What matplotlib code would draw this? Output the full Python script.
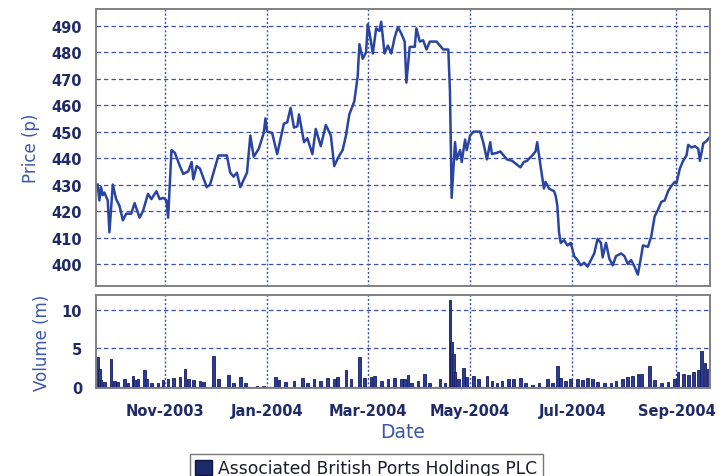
import matplotlib
matplotlib.use("Agg")
import matplotlib.pyplot as plt
import matplotlib.dates as mdates
from matplotlib.patches import Patch
import pandas as pd

# ---------------- data ----------------
price_dates = [
    "2003-09-22", "2003-09-23", "2003-09-24", "2003-09-25", "2003-09-26", "2003-09-28",
    "2003-09-29", "2003-10-01", "2003-10-03", "2003-10-05", "2003-10-07", "2003-10-09",
    "2003-10-12", "2003-10-14", "2003-10-17", "2003-10-19", "2003-10-22", "2003-10-24",
    "2003-10-27", "2003-10-29", "2003-10-31", "2003-11-02", "2003-11-03", "2003-11-05",
    "2003-11-07", "2003-11-10", "2003-11-12", "2003-11-15", "2003-11-17", "2003-11-18",
    "2003-11-20", "2003-11-22", "2003-11-26", "2003-11-28", "2003-12-03", "2003-12-08",
    "2003-12-10", "2003-12-12", "2003-12-14", "2003-12-16", "2003-12-20", "2003-12-22",
    "2003-12-24", "2003-12-27", "2003-12-30", "2003-12-31", "2004-01-01", "2004-01-04",
    "2004-01-07", "2004-01-11", "2004-01-13", "2004-01-15", "2004-01-17", "2004-01-19",
    "2004-01-20", "2004-01-23", "2004-01-25", "2004-01-28", "2004-01-30", "2004-02-02",
    "2004-02-05", "2004-02-08", "2004-02-10", "2004-02-13", "2004-02-15", "2004-02-17",
    "2004-02-19", "2004-02-22", "2004-02-24", "2004-02-25", "2004-02-27", "2004-02-29",
    "2004-03-01", "2004-03-02", "2004-03-04", "2004-03-06", "2004-03-08", "2004-03-09",
    "2004-03-11", "2004-03-13", "2004-03-15", "2004-03-17", "2004-03-19", "2004-03-21",
    "2004-03-23", "2004-03-24", "2004-03-26", "2004-03-29", "2004-03-30", "2004-04-01",
    "2004-04-03", "2004-04-05", "2004-04-07", "2004-04-11", "2004-04-13", "2004-04-15",
    "2004-04-18", "2004-04-19", "2004-04-20", "2004-04-22", "2004-04-23", "2004-04-25",
    "2004-04-26", "2004-04-28", "2004-04-29", "2004-05-01", "2004-05-03", "2004-05-07",
    "2004-05-09", "2004-05-11", "2004-05-13", "2004-05-14", "2004-05-17", "2004-05-19",
    "2004-05-23", "2004-05-26", "2004-05-28", "2004-05-31", "2004-06-02", "2004-06-04",
    "2004-06-07", "2004-06-09", "2004-06-10", "2004-06-12", "2004-06-14", "2004-06-15",
    "2004-06-17", "2004-06-20", "2004-06-21", "2004-06-22", "2004-06-23", "2004-06-24",
    "2004-06-26", "2004-06-28", "2004-06-30", "2004-07-02", "2004-07-04", "2004-07-06",
    "2004-07-08", "2004-07-10", "2004-07-12", "2004-07-14", "2004-07-16", "2004-07-18",
    "2004-07-19", "2004-07-21", "2004-07-23", "2004-07-25", "2004-07-27", "2004-07-30",
    "2004-08-01", "2004-08-03", "2004-08-05", "2004-08-07", "2004-08-09", "2004-08-11",
    "2004-08-12", "2004-08-15", "2004-08-17", "2004-08-19", "2004-08-21", "2004-08-23",
    "2004-08-25", "2004-08-27", "2004-08-29", "2004-08-31", "2004-09-01", "2004-09-03",
    "2004-09-05", "2004-09-07", "2004-09-08", "2004-09-10", "2004-09-12", "2004-09-14",
    "2004-09-15", "2004-09-17", "2004-09-19", "2004-09-21",
]
price_values = [
    430, 424, 429, 426, 427, 424,
    412, 430, 424.5, 422, 416.5, 419,
    419, 423, 417.5, 420, 426.5, 424.5,
    427.5, 424.5, 425, 424, 417.5, 443,
    442, 437, 434, 435, 438.5, 432,
    437, 436, 429, 430, 441, 441,
    434.5, 433, 434.5, 429, 434.5, 448.5,
    440.5, 443.5, 449.5, 455, 450, 449.5,
    441.5, 453, 453.5, 459, 451.5, 452,
    456.5, 446, 447.5, 441.5, 451, 444.5,
    452.5, 448.5, 437, 441, 443, 448.5,
    456.5, 461.5, 471, 483, 477.5, 480,
    490.5, 487.5, 479.5, 489, 488, 491.5,
    479.5, 482.5, 479.5, 485.5, 489.5, 487,
    484, 468.5, 482, 482, 489, 484,
    484.5, 481, 484, 484, 482.5, 481,
    481, 465, 425, 446, 439.5, 443,
    438.5, 447, 443, 448.5, 450, 450,
    445.5, 439.5, 446, 441.5, 442, 442.5,
    439.5, 439, 438, 436.5, 438.5, 439,
    441, 442.5, 446, 437, 428.5, 431,
    428.5, 427.5, 425.8, 422, 412, 408,
    409, 407, 408, 403, 401.5, 399.5,
    400.5, 399, 401.5, 404, 409.5, 408,
    402.5, 408, 402, 399.5, 403, 404,
    403, 400, 401.5, 399, 396, 403,
    407, 406.5, 410.5, 418, 420.5, 423.5,
    424, 427.5, 429.5, 431, 430.5, 436,
    439, 441, 445, 444, 444.5, 443.5,
    439, 445.5, 446.5, 448,
]

volume_dates = [
    "2003-09-22", "2003-09-23", "2003-09-24", "2003-09-26", "2003-09-30", "2003-10-02",
    "2003-10-04", "2003-10-08", "2003-10-10", "2003-10-13", "2003-10-14", "2003-10-16",
    "2003-10-20", "2003-10-21", "2003-10-24", "2003-10-28", "2003-10-31", "2003-11-03",
    "2003-11-06", "2003-11-10", "2003-11-13", "2003-11-15", "2003-11-18", "2003-11-22",
    "2003-11-24", "2003-11-30", "2003-12-03", "2003-12-09", "2003-12-12", "2003-12-16",
    "2003-12-19", "2003-12-26", "2003-12-30", "2004-01-06", "2004-01-08", "2004-01-12",
    "2004-01-17", "2004-01-22", "2004-01-25", "2004-01-29", "2004-02-02", "2004-02-06",
    "2004-02-10", "2004-02-12", "2004-02-17", "2004-02-20", "2004-02-25", "2004-02-28",
    "2004-03-03", "2004-03-05", "2004-03-09", "2004-03-13", "2004-03-17", "2004-03-21",
    "2004-03-23", "2004-03-25", "2004-03-27", "2004-03-31", "2004-04-04", "2004-04-07",
    "2004-04-13", "2004-04-16", "2004-04-19", "2004-04-20", "2004-04-21", "2004-04-22",
    "2004-04-24", "2004-04-27", "2004-04-29", "2004-05-03", "2004-05-06", "2004-05-11",
    "2004-05-14", "2004-05-17", "2004-05-20", "2004-05-24", "2004-05-27", "2004-05-31",
    "2004-06-03", "2004-06-07", "2004-06-11", "2004-06-16", "2004-06-19", "2004-06-22",
    "2004-06-24", "2004-06-27", "2004-06-30", "2004-07-04", "2004-07-07", "2004-07-10",
    "2004-07-13", "2004-07-16", "2004-07-20", "2004-07-24", "2004-07-27", "2004-07-31",
    "2004-08-03", "2004-08-06", "2004-08-09", "2004-08-11", "2004-08-16", "2004-08-19",
    "2004-08-23", "2004-08-27", "2004-08-31", "2004-09-02", "2004-09-05", "2004-09-08",
    "2004-09-11", "2004-09-14", "2004-09-16", "2004-09-18", "2004-09-20",
]
volume_values = [
    3.9, 2.4, 0.9, 0.7, 3.7, 0.8,
    0.7, 1.1, 0.5, 1.4, 0.9, 1.0,
    2.2, 1.0, 0.5, 0.6, 0.9, 1.0,
    1.2, 1.3, 2.3, 1.0, 0.9, 0.8,
    0.7, 4.0, 1.0, 1.6, 0.5, 1.3,
    0.5, 0.2, 0.1, 1.3, 0.9, 0.7,
    0.8, 1.2, 0.6, 1.0, 0.8, 1.2,
    1.0, 1.3, 2.2, 1.0, 3.9, 1.2,
    1.3, 1.5, 0.8, 1.0, 1.2, 1.0,
    1.0, 1.6, 0.6, 0.8, 1.75, 0.6,
    1.0, 0.6, 11.3, 5.9, 4.3, 2.0,
    1.0, 2.5, 1.3, 1.5, 1.0, 1.5,
    0.8, 0.6, 0.8, 1.0, 1.0, 1.2,
    0.6, 0.35, 0.6, 1.0, 0.5, 2.8,
    1.2, 0.8, 1.0, 1.0, 0.9, 1.2,
    1.0, 0.7, 0.5, 0.6, 0.8, 1.0,
    1.3, 1.5, 1.75, 1.75, 2.8, 0.9,
    0.6, 0.7, 1.0, 2.0, 1.75, 1.6,
    2.0, 2.2, 4.7, 3.1, 2.4,
]

month_ticks = ["2003-11-01", "2004-01-01", "2004-03-01", "2004-05-01", "2004-07-01", "2004-09-01"]
price_ticks = [400, 410, 420, 430, 440, 450, 460, 470, 480, 490]
volume_ticks = [0, 5, 10]
series_name = "Associated British Ports Holdings PLC"

# ---------------- styling ----------------
LINE = "#2a44a2"
TICK_COL = "#1f2a66"
LABEL_COL = "#3a56aa"
GRID_COL = "#3c4fae"
SPINE_COL = "#808080"
BAR_FACE = "#2b3c98"
BAR_EDGE = "#171b5e"

pdates = pd.to_datetime(price_dates)
vdates = pd.to_datetime(volume_dates)
x0, x1 = pd.Timestamp("2003-09-21"), pd.Timestamp("2004-09-21")

W, H = 722, 477
fig = plt.figure(figsize=(W / 100, H / 100), dpi=100)
fig.patch.set_facecolor("white")

L, R = 96 / W, 710 / W
ax_p = fig.add_axes([L, 1 - 287 / H, R - L, (287 - 10) / H])
ax_v = fig.add_axes([L, 1 - 389 / H, R - L, (389 - 296) / H], sharex=ax_p)

ax_p.plot(pdates, price_values, color=LINE, lw=1.8, solid_joinstyle="round")
ax_v.bar(vdates, volume_values, width=1.6, color=BAR_FACE, edgecolor=BAR_EDGE,
         linewidth=0.6, align="center")

ax_p.set_xlim(x0, x1)
ax_p.set_ylim(391.7, 496.3)
ax_v.set_ylim(-0.1, 11.9)

ax_p.set_yticks(price_ticks)
ax_v.set_yticks(volume_ticks)
ax_v.set_xticks(pd.to_datetime(month_ticks))
ax_v.xaxis.set_major_formatter(mdates.DateFormatter("%b-%Y"))

for ax in (ax_p, ax_v):
    for s in ax.spines.values():
        s.set_color(SPINE_COL)
        s.set_linewidth(1.4)
    ax.tick_params(length=0, labelsize=10.5, labelcolor=TICK_COL, pad=10)
    for lab in ax.get_yticklabels() + ax.get_xticklabels():
        lab.set_fontweight("bold")
    ax.grid(axis="y", color=GRID_COL, linestyle=(0, (3.5, 2.5)), linewidth=0.9)
    ax.grid(axis="x", color=GRID_COL, linestyle=(0, (1.5, 1.5)), linewidth=1.0)
    ax.set_axisbelow(True)

ax_p.tick_params(axis="x", labelbottom=False)
ax_v.tick_params(axis="x", pad=11)
for lab in ax_v.get_xticklabels():
    lab.set_fontweight("bold")

ax_p.set_ylabel("Price (p)", fontsize=12, color=LABEL_COL)
ax_v.set_ylabel("Volume (m)", fontsize=12, color=LABEL_COL)
ax_p.yaxis.set_label_coords((40 - 96) / (710 - 96), 0.5)
ax_v.yaxis.set_label_coords((51 - 96) / (710 - 96), 0.5)
ax_v.set_xlabel("Date", fontsize=13.5, color=LABEL_COL, labelpad=3)

leg = fig.legend(handles=[Patch(facecolor="#1f2a6b", edgecolor="#101440", label=series_name)],
                 loc="upper center", bbox_to_anchor=(366.5 / W, 1 - 455 / H),
                 borderaxespad=0.0,
                 frameon=True, fancybox=False, fontsize=12.3, handlelength=1.0,
                 handleheight=1.0, handletextpad=0.35, borderpad=0.3)
leg.get_frame().set_edgecolor("#555555")
leg.get_frame().set_linewidth(1.0)
for t in leg.get_texts():
    t.set_color("#1a1a2e")

fig.savefig("out.png", dpi=100, facecolor="white")
